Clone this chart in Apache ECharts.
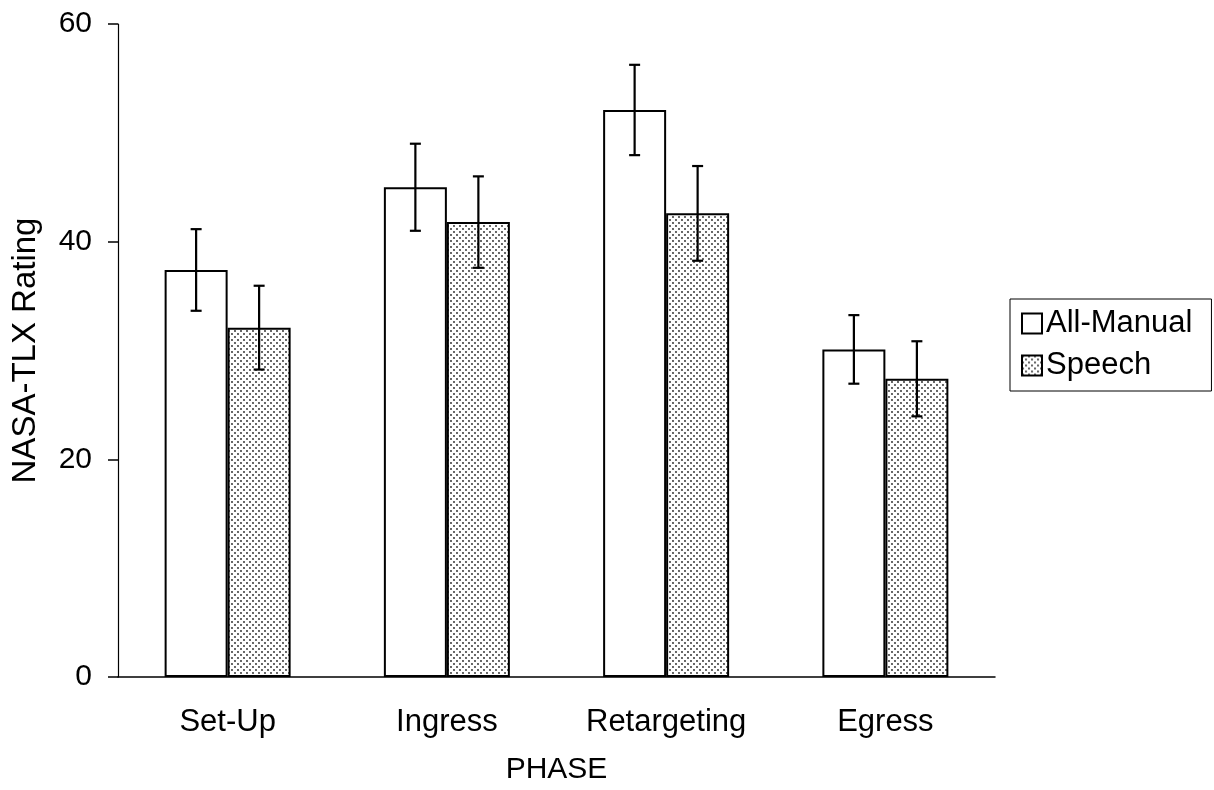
<!DOCTYPE html>
<html>
<head>
<meta charset="utf-8">
<script src="https://cdn.jsdelivr.net/npm/echarts@6/dist/echarts.min.js"></script>
<style>
html,body{margin:0;padding:0;background:#fff;}
#chart{width:1214px;height:790px;}
</style>
</head>
<body>
<div id="chart"></div>
<script>
const categories = ['Set-Up', 'Ingress', 'Retargeting', 'Egress'];
const seriesNames = ['All-Manual', 'Speech'];
const allManual = [37.4, 45.0, 52.1, 30.1];
const allManualErr = [3.75, 4.0, 4.15, 3.15];
const speech = [32.1, 41.8, 42.6, 27.4];
const speechErr = [3.85, 4.2, 4.35, 3.45];
const yTicks = [0, 20, 40, 60];

const FONT = '"Liberation Sans", Arial, sans-serif';
const BAR_W = 63;

// dotted pattern
const pc = document.createElement('canvas');
pc.width = 6; pc.height = 6;
const g = pc.getContext('2d');
g.fillStyle = '#fff'; g.fillRect(0, 0, 6, 6);
g.fillStyle = '#222';
g.beginPath(); g.arc(1, 1, 0.9, 0, Math.PI * 2); g.fill();
g.beginPath(); g.arc(4, 4, 0.9, 0, Math.PI * 2); g.fill();
const dotPattern = { image: pc, repeat: 'repeat' };

function errData(vals, errs) {
  return vals.map((v, i) => [i, v - errs[i], v + errs[i]]);
}
function errSeries(vals, errs, offset) {
  return {
    type: 'custom',
    silent: true,
    z: 5,
    data: errData(vals, errs),
    renderItem: function (params, api) {
      const lo = api.coord([api.value(0), api.value(1)]);
      const hi = api.coord([api.value(0), api.value(2)]);
      const x = lo[0] + offset;
      const cap = 5.5;
      const st = { stroke: '#000', lineWidth: 2.2 };
      return {
        type: 'group',
        children: [
          { type: 'line', shape: { x1: x, y1: hi[1], x2: x, y2: lo[1] }, style: st },
          { type: 'line', shape: { x1: x - cap, y1: hi[1], x2: x + cap, y2: hi[1] }, style: st },
          { type: 'line', shape: { x1: x - cap, y1: lo[1], x2: x + cap, y2: lo[1] }, style: st }
        ]
      };
    }
  };
}

const chart = echarts.init(document.getElementById('chart'), null, { renderer: 'canvas' });
chart.setOption({
  backgroundColor: '#fff',
  animation: false,
  textStyle: { fontFamily: FONT, color: '#000' },
  grid: { left: 118, right: 219, top: 24, bottom: 110, containLabel: false },
  legend: {
    data: seriesNames,
    orient: 'vertical',
    left: 1010,
    top: 299,
    padding: [9, 19, 10, 11],
    itemGap: 11,
    itemWidth: 20,
    itemHeight: 20,
    icon: 'rect',
    borderColor: '#000',
    borderWidth: 1,
    textStyle: { fontFamily: FONT, fontSize: 31, lineHeight: 30, color: '#000', padding: [0, 0, 0, -1] }
  },
  xAxis: {
    type: 'category',
    data: categories,
    name: 'PHASE',
    nameLocation: 'middle',
    nameGap: 78,
    nameTextStyle: { fontFamily: FONT, fontSize: 30, color: '#000' },
    axisLine: { lineStyle: { color: '#000', width: 1.5 } },
    axisTick: { show: false },
    axisLabel: { fontFamily: FONT, fontSize: 31, color: '#000', margin: 30 },
    splitLine: { show: false }
  },
  yAxis: {
    type: 'value',
    min: yTicks[0],
    max: yTicks[yTicks.length - 1],
    interval: 20,
    name: 'NASA-TLX Rating',
    nameLocation: 'middle',
    nameGap: 76,
    nameRotate: 90,
    nameTextStyle: { fontFamily: FONT, fontSize: 33, color: '#000' },
    axisLine: { show: true, lineStyle: { color: '#000', width: 1.2 } },
    axisTick: { show: true, length: 10, lineStyle: { color: '#000', width: 1.5 } },
    axisLabel: { fontFamily: FONT, fontSize: 30, color: '#000', margin: 26 },
    splitLine: { show: false }
  },
  series: [
    {
      name: seriesNames[0],
      type: 'bar',
      data: allManual,
      barWidth: BAR_W,
      barGap: '0%',
      itemStyle: { color: '#fff', borderColor: '#000', borderWidth: 2 }
    },
    {
      name: seriesNames[1],
      type: 'bar',
      data: speech,
      barWidth: BAR_W,
      barGap: '0%',
      itemStyle: { color: dotPattern, borderColor: '#000', borderWidth: 2 }
    },
    errSeries(allManual, allManualErr, -BAR_W / 2),
    errSeries(speech, speechErr, BAR_W / 2)
  ]
});
</script>
</body>
</html>
